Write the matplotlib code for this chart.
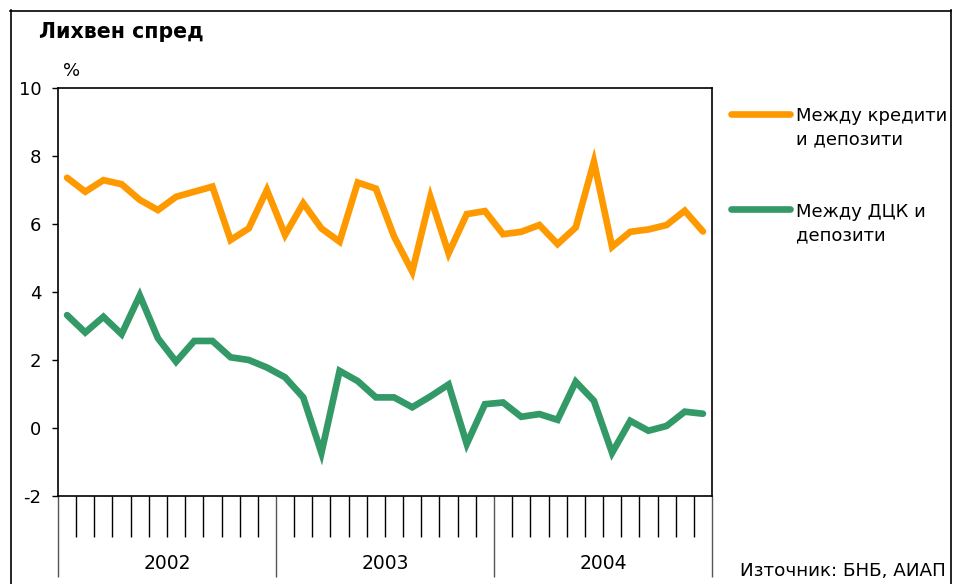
import matplotlib
matplotlib.use("Agg")
import matplotlib.pyplot as plt
from matplotlib.lines import Line2D
import numpy as np

# ---- data ----
years = ["2002", "2003", "2004"]
months_per_year = 12
loans_deposits = [7.36, 6.95, 7.29, 7.17, 6.71, 6.41, 6.80, 6.95, 7.10, 5.53, 5.87, 7.00,
                  5.68, 6.61, 5.87, 5.48, 7.22, 7.04, 5.63, 4.60, 6.79, 5.14, 6.29, 6.38,
                  5.70, 5.77, 5.97, 5.41, 5.90, 7.83, 5.33, 5.77, 5.84, 5.97, 6.39, 5.78]
govsec_deposits = [3.32, 2.81, 3.27, 2.76, 3.90, 2.64, 1.95, 2.56, 2.56, 2.08, 2.00, 1.78,
                   1.49, 0.90, -0.73, 1.68, 1.38, 0.90, 0.90, 0.61, 0.93, 1.28, -0.47, 0.70,
                   0.75, 0.33, 0.41, 0.24, 1.36, 0.80, -0.73, 0.21, -0.08, 0.06, 0.48, 0.42]
series_labels = ["Между кредити\nи депозити", "Между ДЦК и\nдепозити"]
y_ticks = [-2, 0, 2, 4, 6, 8, 10]
title = "Лихвен спред"
unit = "%"
source = "Източник: БНБ, АИАП"

ORANGE = "#FF9900"
GREEN = "#339966"

W, H = 959, 584
fig = plt.figure(figsize=(W / 100, H / 100), dpi=100)
plt.rcParams['font.family'] = ['DejaVu Sans']

def fx(x):
    return x / W

def fy(y):
    return 1 - y / H

L, R, T, B = 58, 712, 88, 496
ax = fig.add_axes([fx(L), fy(B), fx(R) - fx(L), fy(T) - fy(B)])

n = len(loans_deposits)
x = np.arange(n)
ax.plot(x, loans_deposits, color=ORANGE, lw=4.8, solid_joinstyle='miter', solid_capstyle='round')
ax.plot(x, govsec_deposits, color=GREEN, lw=4.8, solid_joinstyle='miter', solid_capstyle='round')

ax.set_xlim(-0.5, n - 0.5)
ax.set_ylim(-2, 10)
ax.set_yticks(y_ticks)
ax.set_yticklabels([str(v) for v in y_ticks], fontsize=13)
ax.tick_params(axis='y', direction='out', length=4, width=1, pad=8, colors='black')

# x ticks: month boundaries (minor) and year boundaries (major)
year_bounds = [-0.5 + months_per_year * k for k in range(len(years) + 1)]
month_bounds = [-0.5 + k for k in range(n + 1) if k % months_per_year != 0]
ax.set_xticks(year_bounds)
ax.set_xticklabels([""] * len(year_bounds))
ax.set_xticks(month_bounds, minor=True)
ax.tick_params(axis='x', which='major', direction='out', length=58, width=1, color='#555555')
ax.tick_params(axis='x', which='minor', direction='out', length=29.5, width=1, color='black')

for i, yr in enumerate(years):
    ax.text(months_per_year * i + (months_per_year - 1) / 2, -0.165, yr,
            transform=ax.get_xaxis_transform(), ha='center', va='center', fontsize=13.5)

for sp in ax.spines.values():
    sp.set_linewidth(1.2)
    sp.set_color('black')

# title, unit, source
fig.text(fx(39), fy(32), title, fontsize=14.8, fontweight='bold', ha='left', va='center')
fig.text(fx(63), fy(71), unit, fontsize=13, ha='left', va='center')
fig.text(fx(946), fy(571), source, fontsize=13.2, ha='right', va='center')

# legend
leg_items = [(ORANGE, 114, 117, series_labels[0]), (GREEN, 209, 213, series_labels[1])]
for col, ly, ty, lab in leg_items:
    fig.add_artist(Line2D([fx(731), fx(790)], [fy(ly), fy(ly)], color=col, lw=4.8,
                          solid_capstyle='round'))
    fig.text(fx(796), fy(ty - 10), lab, fontsize=13, ha='left', va='top', linespacing=1.4)

# outer frame
fig.add_artist(Line2D([fx(10.5), fx(10.5)], [fy(10), 0], color='black', lw=1.2))
fig.add_artist(Line2D([fx(10), fx(950.5)], [fy(10.5), fy(10.5)], color='black', lw=1.2))
fig.add_artist(Line2D([fx(950.5), fx(950.5)], [fy(10), 0], color='black', lw=1.2))

fig.savefig("out.png", dpi=100)
